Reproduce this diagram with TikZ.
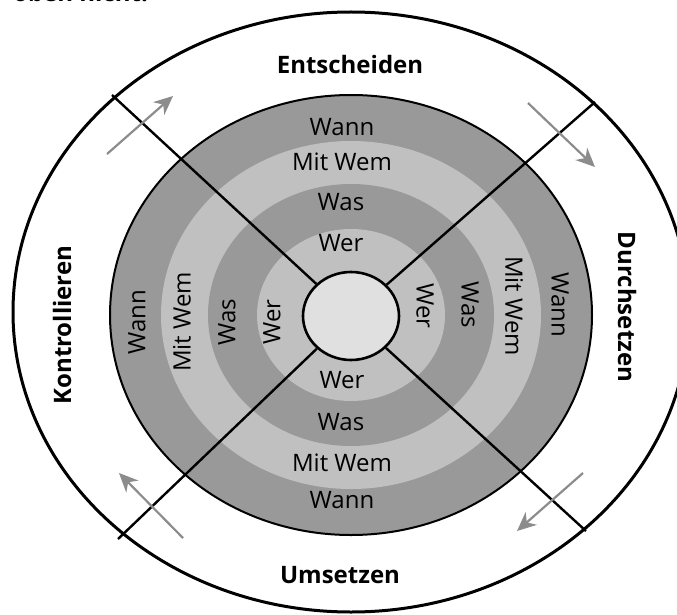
\documentclass[tikz,border=0pt]{standalone}
\usepackage{fontspec}
\setmainfont{Open Sans}
\usetikzlibrary{arrows.meta,shapes.geometric}
\definecolor{darkband}{HTML}{999999}
\definecolor{lightband}{HTML}{C0C0C0}
\definecolor{hub}{HTML}{E0E0E0}
\definecolor{arrowgray}{HTML}{8C8C8C}
\tikzset{
  ringlabel/.style={inner sep=0pt, font=\fontsize{24}{27}\selectfont},
  phaselabel/.style={inner sep=0pt, font=\fontsize{24}{28}\selectfont\bfseries},
  divider/.style={line width=2.4pt, black},
  cyclearrow/.style={line width=2.2pt, arrowgray, -{Stealth[length=19pt,width=17pt,inset=6pt]}}
}
\begin{document}
\begin{tikzpicture}[x=1pt,y=-1pt]
\useasboundingbox (0,0) rectangle (677,615);
\clip (0,0) rectangle (677,615);
% cut-off text at top
\node[phaselabel, anchor=base west] (cut) at (13,2) {oben nicht.};
% outer ellipse
\draw[line width=3pt] (351,312) ellipse [x radius=338, y radius=300];
% bands
\filldraw[fill=darkband, draw=black, line width=2pt] (351,315) ellipse [x radius=241, y radius=220];
\fill[lightband] (351,315) ellipse [x radius=190, y radius=174];
\fill[darkband] (351,315) ellipse [x radius=143, y radius=131];
\fill[lightband] (351,315) ellipse [x radius=94, y radius=86];
% hub
\node[ellipse, draw=black, fill=hub, line width=2.6pt, minimum width=96pt, minimum height=88pt, inner sep=0pt] (c) at (351,316) {};
% divider ends
\coordinate (p1) at (112,95);
\coordinate (p2) at (595,102);
\coordinate (p3) at (118,539);
\coordinate (p4) at (586,531);
\draw[divider] (c) -- (p1);
\draw[divider] (c) -- (p2);
\draw[divider] (c) -- (p3);
\draw[divider] (c) -- (p4);
% arrows
\coordinate (a1s) at (107,154); \coordinate (a1e) at (173,96);
\coordinate (a2s) at (528,103); \coordinate (a2e) at (595,167);
\coordinate (a3s) at (183,538); \coordinate (a3e) at (119,473);
\coordinate (a4s) at (583,473); \coordinate (a4e) at (517,531);
\draw[cyclearrow] (a1s) -- (a1e);
\draw[cyclearrow] (a2s) -- (a2e);
\draw[cyclearrow] (a3s) -- (a3e);
\draw[cyclearrow] (a4s) -- (a4e);
% top labels
\node[ringlabel] (t1) at (342,127) {Wann};
\node[ringlabel] (t2) at (342,162) {Mit Wem};
\node[ringlabel] (t3) at (341,202) {Was};
\node[ringlabel] (t4) at (341,243) {Wer};
% bottom labels
\node[ringlabel] (b4) at (342,380) {Wer};
\node[ringlabel] (b3) at (341,422) {Was};
\node[ringlabel] (b2) at (342,463) {Mit Wem};
\node[ringlabel] (b1) at (342,500) {Wann};
% left labels
\node[ringlabel, rotate=90] (l1) at (137,322) {Wann};
\node[ringlabel, rotate=90] (l2) at (182,322) {Mit Wem};
\node[ringlabel, rotate=90] (l3) at (227,322) {Was};
\node[ringlabel, rotate=90] (l4) at (272,322) {Wer};
% right labels
\node[ringlabel, rotate=-90] (r4) at (425,306) {Wer};
\node[ringlabel, rotate=-90] (r3) at (470,305) {Was};
\node[ringlabel, rotate=-90] (r2) at (514,306) {Mit Wem};
\node[ringlabel, rotate=-90] (r1) at (560,305) {Wann};
% phase labels
\node[phaselabel] (ent) at (350,65) {Entscheiden};
\node[phaselabel] (ums) at (340,575) {Umsetzen};
\node[phaselabel, rotate=90] (kon) at (62,325) {Kontrollieren};
\node[phaselabel, rotate=-90] (dur) at (627,307) {Durchsetzen};
\end{tikzpicture}
\end{document}
